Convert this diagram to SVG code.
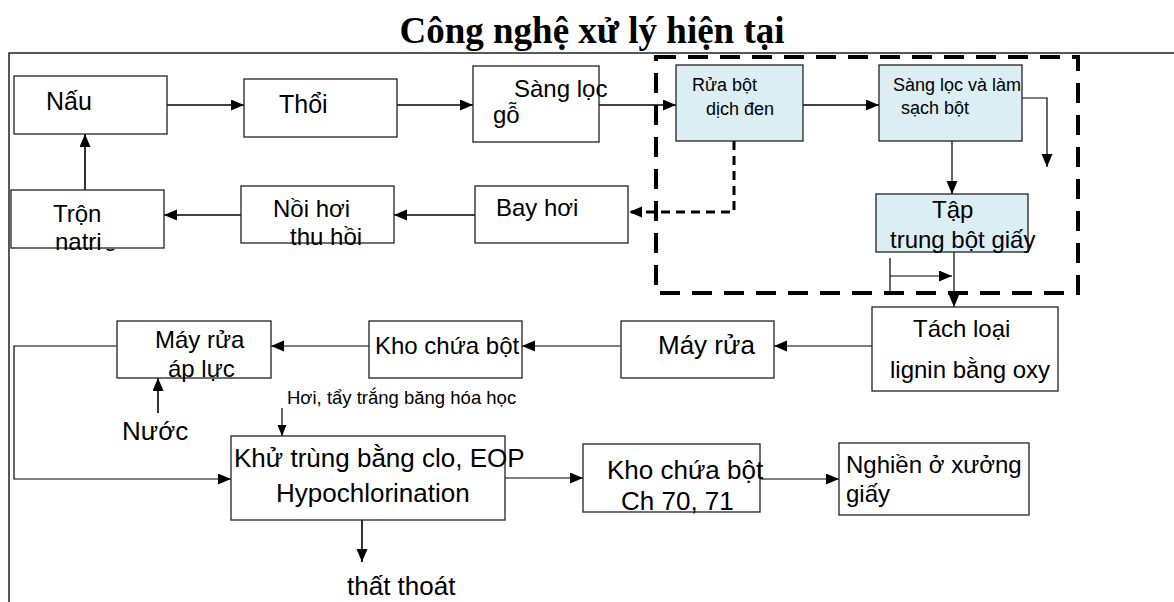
<svg xmlns="http://www.w3.org/2000/svg" width="1174" height="602" viewBox="0 0 1174 602">
<defs>
<style>
.box{fill:#fff;stroke:#222;stroke-width:1.3}
.blue{fill:#DAEEF3;stroke:#222;stroke-width:1.3}
.t{font-family:"Liberation Sans",Arial,sans-serif;font-size:24px;fill:#000}
.s{font-size:18px}
.l{font-size:26px}
.xl{font-size:25px}
.hint{font-size:18.5px}
.ln{fill:none;stroke:#000;stroke-width:1.6}
.thin{fill:none;stroke:#000;stroke-width:1.2}
.dash{fill:none;stroke:#000;stroke-width:3;stroke-dasharray:9 6}
</style>
<marker id="ah" markerUnits="userSpaceOnUse" markerWidth="14" markerHeight="12" refX="13" refY="5.5" orient="auto"><path d="M0,0 L13,5.5 L0,11 z" fill="#000"/></marker>
<marker id="ahs" markerUnits="userSpaceOnUse" markerWidth="12" markerHeight="10" refX="11" refY="4.5" orient="auto"><path d="M0,0 L11,4.5 L0,9 z" fill="#000"/></marker>
<clipPath id="below"><rect x="100" y="249" width="30" height="20"/></clipPath>
</defs>
<rect width="1174" height="602" fill="#fff"/>
<text x="592" y="43" text-anchor="middle" font-family="'Liberation Serif','Times New Roman',serif" font-weight="bold" font-size="37">Công nghệ xử lý hiện tại</text>
<path d="M9,602 V53 H1174" fill="none" stroke="#222" stroke-width="1.5"/>
<rect id="zone" x="656" y="57" width="422" height="236" fill="none" stroke="#000" stroke-width="4" stroke-dasharray="20 12"/>

<g id="connectors">
<path class="ln" d="M167,105 H244" marker-end="url(#ah)"/>
<path class="ln" d="M397,105 H473" marker-end="url(#ah)"/>
<path class="ln" d="M599,105 H676" marker-end="url(#ah)"/>
<path class="ln" d="M803,105 H879" marker-end="url(#ah)"/>
<path class="thin" d="M1022,98 H1047 V167" marker-end="url(#ah)"/>
<path class="thin" d="M952,141 V194" marker-end="url(#ah)"/>
<path class="thin" d="M954,252 V307" marker-end="url(#ah)"/>
<path class="thin" d="M890,293 V258"/>
<path class="thin" d="M890,276 H952" marker-end="url(#ah)"/>
<path class="dash" d="M734,141 V212 H629" marker-end="url(#ah)"/>
<path class="ln" d="M475,215 H394" marker-end="url(#ah)"/>
<path class="ln" d="M241,215 H164" marker-end="url(#ah)"/>
<path class="ln" d="M85,190 V134" marker-end="url(#ah)"/>
<path class="thin" d="M872,346 H774" marker-end="url(#ah)"/>
<path class="thin" d="M621,346 H522" marker-end="url(#ah)"/>
<path class="thin" d="M369,346 H271" marker-end="url(#ah)"/>
<path class="thin" d="M117,346 H14 V479 H231" marker-end="url(#ah)"/>
<path class="ln" d="M158,413 V378" marker-end="url(#ah)"/>
<path class="thin" d="M282,408 V436" marker-end="url(#ahs)"/>
<path class="thin" d="M505,478 H583" marker-end="url(#ah)"/>
<path class="thin" d="M760,479 H839" marker-end="url(#ah)"/>
<path class="ln" d="M362,520 V562" marker-end="url(#ah)"/>
</g>

<g id="nau"><rect class="box" x="14" y="76" width="153" height="58"/><text class="t xl" x="46" y="110">Nấu</text></g>
<g id="thoi"><rect class="box" x="244" y="79" width="153" height="58"/><text class="t xl" x="279" y="113">Thổi</text></g>
<g id="sangloc"><rect class="box" x="473" y="66" width="126" height="76"/><text class="t" x="514" y="97">Sàng lọc</text><text class="t" x="493" y="123">gỗ</text></g>
<g id="ruabot"><rect class="blue" x="676" y="65" width="127" height="76"/><text class="t s" x="692" y="91">Rửa bột</text><text class="t s" x="706" y="115">dịch đen</text></g>
<g id="sanglocvalam"><rect class="blue" x="879" y="65" width="143" height="76"/><text class="t s" x="893" y="91">Sàng lọc và làm</text><text class="t s" x="901" y="114">sạch bột</text></g>
<g id="taptrung"><rect class="blue" x="876" y="194" width="152" height="58"/><text class="t" x="932" y="218">Tập</text><text class="t" x="890" y="248">trung bột giấy</text></g>
<g id="bayhoi"><rect class="box" x="475" y="186" width="153" height="57"/><text class="t" x="496" y="216">Bay hơi</text></g>
<g id="noihoi"><rect class="box" x="241" y="186" width="153" height="57"/><text class="t" x="273" y="217">Nồi hơi</text><text class="t" x="290" y="245">thu hồi</text></g>
<g id="tron"><rect class="box" x="11" y="190" width="153" height="58"/><text class="t" x="53" y="222">Trộn</text><text class="t" x="55" y="250">natri</text><text class="t" x="104" y="246" clip-path="url(#below)">g</text></g>
<g id="tachloai"><rect class="box" x="872" y="307" width="186" height="84"/><text class="t" x="913" y="337">Tách loại</text><text class="t" x="890" y="378">lignin bằng oxy</text></g>
<g id="mayrua"><rect class="box" x="621" y="321" width="153" height="57"/><text class="t l" x="658" y="354">Máy rửa</text></g>
<g id="khochua"><rect class="box" x="369" y="321" width="153" height="57"/><text class="t" x="375" y="354">Kho chứa bột</text></g>
<g id="mayruaapluc"><rect class="box" x="117" y="321" width="154" height="57"/><text class="t" x="155" y="348">Máy rửa</text><text class="t" x="168" y="377">áp lực</text></g>
<g id="nuoc"><text class="t l" x="122" y="440">Nước</text></g>
<g id="hoi"><text class="t hint" x="287" y="404">Hơi, tẩy trắng băng hóa học</text></g>
<g id="khutrung"><rect class="box" x="231" y="436" width="274" height="84"/><text class="t l" x="234" y="467">Khử trùng bằng clo, EOP</text><text class="t l" x="276" y="502">Hypochlorination</text></g>
<g id="khochuach"><rect class="box" x="583" y="444" width="177" height="68"/><text class="t l" x="607" y="479">Kho chứa bột</text><text class="t l" x="621" y="510">Ch 70, 71</text></g>
<g id="nghien"><rect class="box" x="839" y="443" width="190" height="72"/><text class="t" x="846" y="473">Nghiền ở xưởng</text><text class="t" x="846" y="502">giấy</text></g>
<g id="thatthoat"><text class="t l" x="347" y="595">thất thoát</text></g>
</svg>
